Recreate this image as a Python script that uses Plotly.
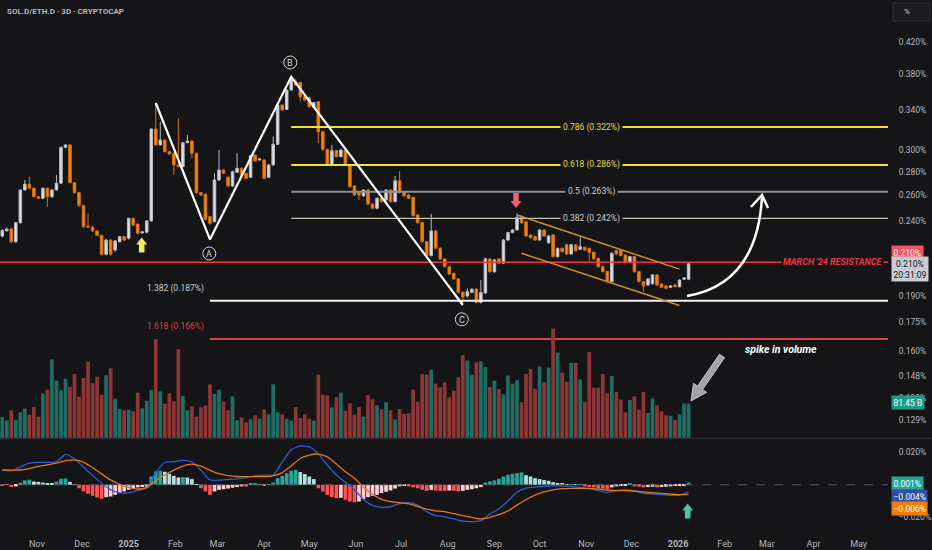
import math
from datetime import date, timedelta
import plotly.graph_objects as go

# SOL.D / ETH.D, 3-day candles, values in %
first_day = date(2024, 10, 9)

opens = [0.2290, 0.2329, 0.2341, 0.2250, 0.2388, 0.2645, 0.2693, 0.2659, 0.2590, 0.2577,
         0.2659, 0.2590, 0.2645, 0.2701, 0.3022, 0.3045, 0.2706, 0.2623, 0.2519, 0.2362,
         0.2355, 0.2327, 0.2295, 0.2163, 0.2262, 0.2192, 0.2250, 0.2286, 0.2274, 0.2421,
         0.2378, 0.2312, 0.2318, 0.2401, 0.3200, 0.3045, 0.3092, 0.2981, 0.2966, 0.2860,
         0.2845, 0.3066, 0.3082, 0.2966, 0.2623, 0.2610, 0.2433, 0.2396, 0.2729, 0.2815,
         0.2752, 0.2678, 0.2795, 0.2830, 0.2786, 0.2752, 0.2950, 0.2905, 0.2905, 0.2752,
         0.2860, 0.3051, 0.3449, 0.3403, 0.3615, 0.3711, 0.3700, 0.3540, 0.3530, 0.3425,
         0.3485, 0.3173, 0.3003, 0.2860, 0.2991, 0.2935, 0.2997, 0.2860, 0.2678, 0.2623,
         0.2596, 0.2645, 0.2532, 0.2498, 0.2577, 0.2563, 0.2645, 0.2550, 0.2723, 0.2623,
         0.2604, 0.2585, 0.2446, 0.2390, 0.2250, 0.2154, 0.2327, 0.2204, 0.2132, 0.2081,
         0.2038, 0.2003, 0.1921, 0.1899, 0.1921, 0.1939, 0.1862, 0.1917, 0.2132, 0.2049,
         0.2132, 0.2104, 0.2262, 0.2315, 0.2334, 0.2433, 0.2395, 0.2298, 0.2286, 0.2262,
         0.2334, 0.2243, 0.2298, 0.2148, 0.2204, 0.2229, 0.2165, 0.2227, 0.2197, 0.2211,
         0.2204, 0.2177, 0.2136, 0.2081, 0.2049, 0.1986, 0.2188, 0.2192, 0.2158, 0.2110,
         0.2148, 0.2049, 0.1986, 0.1965, 0.1973, 0.2028, 0.1972, 0.1959, 0.1951, 0.1965,
         0.1955, 0.2001, 0.2001]
highs = [0.2340, 0.2350, 0.2350, 0.2390, 0.2650, 0.2729, 0.2757, 0.2665, 0.2595, 0.2665,
         0.2665, 0.2650, 0.2771, 0.3030, 0.3050, 0.3050, 0.2710, 0.2630, 0.2525, 0.2459,
         0.2362, 0.2330, 0.2300, 0.2270, 0.2268, 0.2260, 0.2290, 0.2290, 0.2425, 0.2425,
         0.2380, 0.2325, 0.2405, 0.3205, 0.3471, 0.3274, 0.3100, 0.2985, 0.2970, 0.3310,
         0.3070, 0.3141, 0.3085, 0.2970, 0.2625, 0.2615, 0.2440, 0.2786, 0.2997, 0.2825,
         0.2760, 0.2810, 0.2966, 0.2840, 0.2790, 0.2950, 0.2955, 0.2920, 0.2910, 0.2865,
         0.3126, 0.3455, 0.3455, 0.3620, 0.3760, 0.3740, 0.3710, 0.3550, 0.3540, 0.3480,
         0.3490, 0.3180, 0.3010, 0.3045, 0.3000, 0.3005, 0.3005, 0.2865, 0.2680, 0.2625,
         0.2650, 0.2650, 0.2535, 0.2585, 0.2580, 0.2650, 0.2650, 0.2763, 0.2806, 0.2630,
         0.2610, 0.2590, 0.2450, 0.2395, 0.2255, 0.2454, 0.2333, 0.2210, 0.2135, 0.2085,
         0.2042, 0.2008, 0.1925, 0.1945, 0.1945, 0.1945, 0.1996, 0.2140, 0.2138, 0.2130,
         0.2138, 0.2268, 0.2320, 0.2340, 0.2459, 0.2445, 0.2400, 0.2302, 0.2290, 0.2340,
         0.2340, 0.2296, 0.2305, 0.2210, 0.2210, 0.2235, 0.2235, 0.2232, 0.2281, 0.2216,
         0.2208, 0.2181, 0.2140, 0.2085, 0.2053, 0.2175, 0.2195, 0.2198, 0.2162, 0.2152,
         0.2152, 0.2053, 0.1990, 0.2008, 0.2034, 0.2034, 0.1976, 0.1963, 0.1965, 0.1970,
         0.2000, 0.2015, 0.2105]
lows = [0.2280, 0.2320, 0.2240, 0.2240, 0.2380, 0.2640, 0.2650, 0.2585, 0.2570, 0.2570,
        0.2510, 0.2580, 0.2640, 0.2695, 0.3015, 0.2700, 0.2615, 0.2510, 0.2350, 0.2350,
        0.2320, 0.2290, 0.2155, 0.2155, 0.2155, 0.2180, 0.2245, 0.2255, 0.2265, 0.2365,
        0.2305, 0.2308, 0.2310, 0.2395, 0.3035, 0.3040, 0.2975, 0.2955, 0.2771, 0.2840,
        0.2840, 0.3060, 0.2920, 0.2615, 0.2595, 0.2405, 0.2370, 0.2390, 0.2720, 0.2780,
        0.2670, 0.2670, 0.2790, 0.2765, 0.2735, 0.2745, 0.2890, 0.2900, 0.2735, 0.2745,
        0.2855, 0.3045, 0.3390, 0.3395, 0.3610, 0.3660, 0.3485, 0.3490, 0.3420, 0.3420,
        0.3060, 0.2990, 0.2850, 0.2850, 0.2930, 0.2930, 0.2850, 0.2665, 0.2595, 0.2563,
        0.2590, 0.2525, 0.2490, 0.2490, 0.2545, 0.2555, 0.2545, 0.2545, 0.2615, 0.2590,
        0.2570, 0.2435, 0.2380, 0.2245, 0.2145, 0.2148, 0.2198, 0.2125, 0.2075, 0.2028,
        0.1997, 0.1915, 0.1855, 0.1890, 0.1915, 0.1855, 0.1855, 0.1910, 0.2042, 0.2040,
        0.2098, 0.2100, 0.2255, 0.2310, 0.2330, 0.2380, 0.2285, 0.2270, 0.2255, 0.2255,
        0.2285, 0.2237, 0.2140, 0.2140, 0.2175, 0.2160, 0.2160, 0.2182, 0.2192, 0.2187,
        0.2120, 0.2126, 0.2075, 0.2043, 0.1980, 0.1980, 0.2160, 0.2148, 0.2104, 0.2104,
        0.2043, 0.1980, 0.1925, 0.1960, 0.1968, 0.1960, 0.1945, 0.1939, 0.1945, 0.1950,
        0.1950, 0.1996, 0.1995]
closes = [0.2330, 0.2341, 0.2250, 0.2388, 0.2645, 0.2693, 0.2659, 0.2590, 0.2577, 0.2659,
          0.2590, 0.2645, 0.2701, 0.3022, 0.3045, 0.2706, 0.2623, 0.2519, 0.2358, 0.2355,
          0.2327, 0.2295, 0.2163, 0.2262, 0.2163, 0.2255, 0.2286, 0.2262, 0.2421, 0.2371,
          0.2310, 0.2320, 0.2401, 0.3200, 0.3045, 0.3092, 0.2981, 0.2960, 0.2860, 0.2845,
          0.3066, 0.3082, 0.2966, 0.2623, 0.2604, 0.2413, 0.2383, 0.2729, 0.2815, 0.2786,
          0.2678, 0.2801, 0.2830, 0.2772, 0.2743, 0.2944, 0.2896, 0.2914, 0.2743, 0.2860,
          0.3051, 0.3449, 0.3396, 0.3615, 0.3730, 0.3672, 0.3540, 0.3504, 0.3431, 0.3475,
          0.3173, 0.3003, 0.2860, 0.2991, 0.2935, 0.2997, 0.2860, 0.2672, 0.2604, 0.2604,
          0.2645, 0.2532, 0.2498, 0.2577, 0.2550, 0.2645, 0.2550, 0.2723, 0.2623, 0.2596,
          0.2577, 0.2441, 0.2388, 0.2250, 0.2154, 0.2327, 0.2204, 0.2132, 0.2081, 0.2034,
          0.2003, 0.1921, 0.1893, 0.1925, 0.1939, 0.1862, 0.1919, 0.2132, 0.2049, 0.2125,
          0.2104, 0.2262, 0.2315, 0.2334, 0.2428, 0.2388, 0.2291, 0.2279, 0.2262, 0.2334,
          0.2291, 0.2291, 0.2148, 0.2204, 0.2181, 0.2165, 0.2229, 0.2188, 0.2215, 0.2192,
          0.2177, 0.2132, 0.2081, 0.2049, 0.1986, 0.2170, 0.2165, 0.2154, 0.2110, 0.2148,
          0.2049, 0.1986, 0.1959, 0.2003, 0.2028, 0.1965, 0.1951, 0.1945, 0.1959, 0.1955,
          0.1996, 0.2009, 0.2100]

# volume in billions
volume_b = [49.6, 41.7, 65.3, 42.5, 60.6, 69.3, 55.1, 73.2, 50.4, 105.5,
            114.1, 185.7, 135.4, 112.5, 140.1, 121.2, 151.1, 97.6, 141.7, 180.2,
            129.9, 144.8, 102.3, 148.0, 164.5, 92.9, 68.5, 65.3, 66.9, 63.0,
            107.0, 70.0, 88.1, 114.1, 233.7, 110.2, 81.1, 105.5, 86.6, 209.3,
            99.2, 65.3, 74.8, 50.4, 72.4, 76.3, 126.7, 103.9, 114.1, 85.8,
            65.3, 98.4, 41.7, 48.0, 37.0, 44.1, 53.5, 45.6, 66.9, 55.9,
            126.7, 60.6, 55.9, 45.6, 40.9, 73.2, 47.2, 55.9, 45.6, 40.9,
            149.5, 102.3, 100.0, 72.4, 96.0, 107.0, 64.5, 81.8, 55.1, 73.2,
            50.4, 100.7, 91.3, 77.1, 67.7, 84.2, 65.3, 44.1, 68.5, 56.7,
            58.2, 114.1, 85.8, 151.1, 149.5, 161.3, 128.3, 119.6, 131.4, 96.0,
            111.8, 143.2, 195.2, 182.6, 149.5, 178.6, 181.0, 167.6, 120.4, 135.4,
            115.7, 103.1, 147.2, 128.3, 136.9, 84.2, 151.1, 162.9, 115.7, 168.4,
            131.4, 166.1, 258.1, 201.5, 154.3, 133.0, 177.1, 177.1, 138.5, 85.0,
            203.0, 118.8, 118.8, 151.1, 105.5, 146.4, 108.6, 90.5, 60.6, 89.7,
            98.4, 66.9, 108.6, 59.0, 92.9, 77.1, 63.0, 53.5, 52.7, 42.5,
            55.9, 81.8, 81.45]

# MACD histogram, one per candle (%)
macd_hist = [-0.0002, -0.0001, -0.0014, -0.0010, 0.0014, 0.0027, 0.0031, 0.0020, 0.0018, 0.0014,
             0.0010, 0.0006, 0.0020, 0.0037, 0.0039, 0.0018, 0.0001, -0.0021, -0.0041, -0.0055,
             -0.0068, -0.0078, -0.0086, -0.0076, -0.0072, -0.0062, -0.0051, -0.0041, -0.0031, -0.0021,
             -0.0016, -0.0014, -0.0012, 0.0051, 0.0082, 0.0086, 0.0080, 0.0068, 0.0055, 0.0045,
             0.0047, 0.0045, 0.0035, 0.0004, -0.0021, -0.0041, -0.0062, -0.0041, -0.0031, -0.0027,
             -0.0023, -0.0018, -0.0014, -0.0010, -0.0011, 0.0006, 0.0007, 0.0004, -0.0002, 0.0002,
             0.0014, 0.0041, 0.0055, 0.0072, 0.0086, 0.0092, 0.0078, 0.0066, 0.0051, 0.0035,
             -0.0021, -0.0041, -0.0062, -0.0076, -0.0082, -0.0080, -0.0092, -0.0103, -0.0107, -0.0103,
             -0.0088, -0.0076, -0.0068, -0.0062, -0.0051, -0.0043, -0.0035, -0.0023, -0.0010, -0.0008,
             -0.0010, -0.0016, -0.0021, -0.0031, -0.0037, -0.0031, -0.0035, -0.0037, -0.0037, -0.0035,
             -0.0037, -0.0041, -0.0037, -0.0031, -0.0027, -0.0021, -0.0014, 0.0014, 0.0021, 0.0027,
             0.0037, 0.0051, 0.0062, 0.0068, 0.0072, 0.0076, 0.0059, 0.0051, 0.0041, 0.0035,
             0.0029, 0.0025, 0.0016, 0.0010, 0.0006, 0.0002, 0.0004, 0.0002, 0.0001, -0.0010,
             -0.0014, -0.0016, -0.0021, -0.0023, -0.0025, -0.0016, -0.0010, -0.0006, -0.0002, 0.0006,
             -0.0010, -0.0012, -0.0016, -0.0014, -0.0012, -0.0016, -0.0014, -0.0012, -0.0010, -0.0008,
             -0.0006, -0.0002, 0.0014]

# MACD and signal lines, read every second candle (%)
macd_line = [0.0090, 0.0086, 0.0110, 0.0133, 0.0138, 0.0138, 0.0142, 0.0187, 0.0160, 0.0108,
             0.0058, 0.0010, -0.0030, -0.0050, -0.0050, -0.0035, -0.0020, 0.0075, 0.0137, 0.0142,
             0.0150, 0.0140, 0.0090, 0.0030, 0.0029, 0.0033, 0.0037, 0.0044, 0.0055, 0.0058,
             0.0060, 0.0140, 0.0215, 0.0239, 0.0233, 0.0190, 0.0120, 0.0060, 0.0015, -0.0030,
             -0.0090, -0.0127, -0.0139, -0.0135, -0.0116, -0.0110, -0.0125, -0.0165, -0.0189, -0.0197,
             -0.0210, -0.0223, -0.0227, -0.0221, -0.0180, -0.0147, -0.0100, -0.0045, -0.0020, -0.0014,
             -0.0010, -0.0007, -0.0007, -0.0010, -0.0016, -0.0024, -0.0036, -0.0047, -0.0035, -0.0032,
             -0.0039, -0.0052, -0.0057, -0.0060, -0.0065, -0.0064, -0.0044]
signal_line = [0.0091, 0.0090, 0.0091, 0.0100, 0.0113, 0.0123, 0.0133, 0.0148, 0.0153, 0.0140,
               0.0105, 0.0067, 0.0030, 0.0002, -0.0018, -0.0026, -0.0018, 0.0025, 0.0060, 0.0090,
               0.0115, 0.0127, 0.0115, 0.0089, 0.0068, 0.0056, 0.0051, 0.0050, 0.0050, 0.0050,
               0.0055, 0.0075, 0.0117, 0.0162, 0.0183, 0.0189, 0.0172, 0.0128, 0.0080, 0.0040,
               -0.0015, -0.0058, -0.0090, -0.0104, -0.0110, -0.0117, -0.0132, -0.0150, -0.0160, -0.0165,
               -0.0178, -0.0190, -0.0201, -0.0210, -0.0201, -0.0184, -0.0160, -0.0125, -0.0092, -0.0064,
               -0.0044, -0.0031, -0.0024, -0.0022, -0.0022, -0.0022, -0.0026, -0.0032, -0.0036, -0.0035,
               -0.0038, -0.0044, -0.0049, -0.0053, -0.0057, -0.0061, -0.0059]

dates = [first_day + timedelta(days=3 * i) for i in range(len(closes))]
line_dates = dates[::2]

# drawings on the chart
fib_labels = ['0.786 (0.322%)', '0.618 (0.286%)', '0.5 (0.263%)', '0.382 (0.242%)',
              '1.382 (0.187%)', '1.618 (0.166%)']
fib_values = [0.322, 0.286, 0.263, 0.242, 0.187, 0.166]
resistance = 0.211
wave_idx = [34, 46, 64, 102]          # start, A, B, C candles
wave_vals = [0.3471, 0.2266, 0.3768, 0.1846]
chan_up_idx, chan_up_vals = [114, 150], [0.2446, 0.2065]
chan_lo_idx, chan_lo_vals = [115, 150], [0.2170, 0.1843]

price_ticks = [0.42, 0.38, 0.34, 0.30, 0.28, 0.26, 0.24, 0.19, 0.175, 0.16, 0.148, 0.138, 0.129]
month_ticks = ['2024-11-01', '2024-12-01', '2025-01-01', '2025-02-01', '2025-03-01', '2025-04-01',
               '2025-05-01', '2025-06-01', '2025-07-01', '2025-08-01', '2025-09-01', '2025-10-01',
               '2025-11-01', '2025-12-01', '2026-01-01', '2026-02-01', '2026-03-01', '2026-04-01',
               '2026-05-01']
month_labels = ['Nov', 'Dec', '<b>2025</b>', 'Feb', 'Mar', 'Apr', 'May', 'Jun', 'Jul', 'Aug', 'Sep',
                'Oct', 'Nov', 'Dec', '<b>2026</b>', 'Feb', 'Mar', 'Apr', 'May']

BG = '#151518'
TXT = '#b2b5be'
X_START, X_END = '2024-10-07 12:00', '2026-05-20 12:00'
PW, PH = 888, 528  # plot area in px


def pp(x, y):
    # pixel position inside the plot area -> paper coords
    return x / PW, 1 - y / PH


def ps(x, y):
    a, b = pp(x, y)
    return f'{a:.5f},{b:.5f}'


def poly(points):
    return 'M ' + ' L '.join(ps(x, y) for x, y in points) + ' Z'


def block_arrow(cx, tip, length, up=True):
    s = 1 if up else -1
    return poly([(cx, tip), (cx + 5.5, tip + 7 * s), (cx + 2.8, tip + 7 * s),
                 (cx + 2.8, tip + length * s), (cx - 2.8, tip + length * s),
                 (cx - 2.8, tip + 7 * s), (cx - 5.5, tip + 7 * s)])


fig = go.Figure()

vol_colors = ['#1e6e64' if c >= o else '#8e3636' for o, c in zip(opens, closes)]
fig.add_trace(go.Bar(x=dates, y=volume_b, marker=dict(color=vol_colors, line=dict(width=0)),
                     yaxis='y3', hoverinfo='skip'))

fig.add_trace(go.Candlestick(
    x=dates, open=opens, high=highs, low=lows, close=closes,
    increasing=dict(line=dict(color='#b9bbc1', width=1), fillcolor='#dedfe3'),
    decreasing=dict(line=dict(color='#d9730c', width=1), fillcolor='#f7850f'),
    yaxis='y'))

# fib levels
fib_colors = ['#f3e23e', '#f3e23e', '#8c8f98', '#cbbfb0', '#f2f2f2', '#e0404a']
fib_widths = [2, 2, 2, 1.3, 2, 2]
for i, v in enumerate(fib_values):
    x0 = dates[wave_idx[2]] if i < 4 else dates[wave_idx[1]]
    fig.add_trace(go.Scatter(x=[x0, X_END], y=[v, v], mode='lines',
                             line=dict(color=fib_colors[i], width=fib_widths[i]), hoverinfo='skip'))

fig.add_trace(go.Scatter(x=[X_START, X_END], y=[resistance, resistance], mode='lines',
                         line=dict(color='#f23645', width=1.5), hoverinfo='skip'))

fig.add_trace(go.Scatter(x=[dates[i] for i in wave_idx], y=wave_vals, mode='lines',
                         line=dict(color='#ffffff', width=2.2), hoverinfo='skip'))

fig.add_trace(go.Scatter(x=[dates[i] for i in chan_up_idx], y=chan_up_vals, mode='lines',
                         line=dict(color='#d08c2c', width=1.5), hoverinfo='skip'))
fig.add_trace(go.Scatter(x=[dates[i] for i in chan_lo_idx], y=chan_lo_vals, mode='lines',
                         line=dict(color='#d08c2c', width=1.5), hoverinfo='skip'))

# MACD pane
hist_colors = []
prev = 0
for h in macd_hist:
    if h >= 0:
        hist_colors.append('#26a69a' if h > prev else '#b2dfdb')
    else:
        hist_colors.append('#ffcdd2' if h > prev else '#ff5252')
    prev = h
fig.add_trace(go.Scatter(x=[X_START, X_END], y=[0, 0], mode='lines', yaxis='y2',
                         line=dict(color='#55585f', width=1, dash='dash'), hoverinfo='skip'))
fig.add_trace(go.Bar(x=dates, y=macd_hist, marker=dict(color=hist_colors, line=dict(width=0)),
                     yaxis='y2'))
fig.add_trace(go.Scatter(x=line_dates, y=macd_line, mode='lines', yaxis='y2',
                         line=dict(color='#2f5bd3', width=1.3, shape='spline', smoothing=0.6)))
fig.add_trace(go.Scatter(x=line_dates, y=signal_line, mode='lines', yaxis='y2',
                         line=dict(color='#e8741a', width=1.3, shape='spline', smoothing=0.6)))

shapes = []
# pane separator
x0, y0 = pp(0, 438.5)
shapes.append(dict(type='line', xref='paper', yref='paper', x0=0, x1=932 / PW, y0=y0, y1=y0,
                   line=dict(color='#2a2b30', width=1.5)))
# % box
a0, b0 = pp(893, 3)
a1, b1 = pp(930, 21)
shapes.append(dict(type='rect', xref='paper', yref='paper', x0=a0, x1=a1, y0=b1, y1=b0,
                   fillcolor='#1c1c20', line=dict(color='#2e2e34', width=1)))
# arrows
shapes.append(dict(type='path', xref='paper', yref='paper', path=block_arrow(141.7, 237.5, 15),
                   fillcolor='#f7ea5c', line=dict(width=0)))
shapes.append(dict(type='path', xref='paper', yref='paper', path=block_arrow(516, 208, 15, up=False),
                   fillcolor='#f0616d', line=dict(width=0)))
shapes.append(dict(type='path', xref='paper', yref='paper', path=block_arrow(687.7, 503.5, 15),
                   fillcolor='#4fc3a1', line=dict(width=0)))
shapes.append(dict(type='path', xref='paper', yref='paper',
                   path=f'M {ps(687, 296)} Q {ps(757, 284)} {ps(762, 197)}',
                   line=dict(color='#ffffff', width=2.5)))
shapes.append(dict(type='path', xref='paper', yref='paper',
                   path=f'M {ps(751, 207)} L {ps(762, 195)} L {ps(768, 208)}',
                   line=dict(color='#ffffff', width=2.5)))
shapes.append(dict(type='path', xref='paper', yref='paper',
                   path=poly([(724.5, 357.7), (702.6, 389.5), (706.7, 392.3), (691, 401),
                              (693.5, 383.3), (697.6, 386.1), (719.5, 354.3)]),
                   fillcolor='#a3a3a6', line=dict(color='#c4c4c8', width=1)))
# wave letter circles
wave_letters = ['A', 'B', 'C']
letter_pos = [(209.3, 253.5), (290.3, 62.5), (461.8, 319.3)]
for (cx, cy) in letter_pos:
    a0, b0 = pp(cx - 6.5, cy - 6.5)
    a1, b1 = pp(cx + 6.5, cy + 6.5)
    shapes.append(dict(type='circle', xref='paper', yref='paper', x0=a0, x1=a1, y0=b1, y1=b0,
                       line=dict(color='#d1d4dc', width=1)))

ann = []
tx, ty = pp(5, 12)
ann.append(dict(text='<b>SOL.D/ETH.D · 3D · CRYPTOCAP</b>', x=tx, y=ty, xref='paper', yref='paper',
                xanchor='left', yanchor='middle', showarrow=False, font=dict(size=8, color=TXT)))
tx, ty = pp(902, 12)
ann.append(dict(text='%', x=tx, y=ty, xref='paper', yref='paper', xanchor='left', yanchor='middle',
                showarrow=False, font=dict(size=8, color='#d1d4dc')))
for (cx, cy), letter in zip(letter_pos, wave_letters):
    tx, ty = pp(cx, cy + 0.3)
    ann.append(dict(text=letter, x=tx, y=ty, xref='paper', yref='paper', showarrow=False,
                    xanchor='center', yanchor='middle', font=dict(size=9, color='#d1d4dc')))

fib_text_colors = ['#e9d84a', '#e9d84a', '#c9cbd1', '#c9cbd1', '#c9cbd1', '#d9434a']
for i, v in enumerate(fib_values):
    if i < 4:
        ann.append(dict(text=fib_labels[i], x=591 / PW, xref='paper', y=math.log10(v), yref='y',
                        xanchor='center', yanchor='middle', showarrow=False, bgcolor=BG,
                        borderpad=2, font=dict(size=8.5, color=fib_text_colors[i])))
    else:
        ann.append(dict(text=fib_labels[i], x=206 / PW, xref='paper', y=math.log10(v) + 0.007,
                        yref='y', xanchor='right', yanchor='bottom', showarrow=False,
                        font=dict(size=8.5, color=fib_text_colors[i])))

ann.append(dict(text="<b><i>MARCH '24 RESISTANCE</i></b>", x=884 / PW, xref='paper',
                y=math.log10(resistance), yref='y', xanchor='right', yanchor='middle',
                showarrow=False, bgcolor=BG, borderpad=1, font=dict(size=9, color='#f23645')))
tx, ty = pp(781, 349)
ann.append(dict(text='<b><i>spike in volume</i></b>', x=tx, y=ty, xref='paper', yref='paper',
                xanchor='center', yanchor='middle', showarrow=False,
                font=dict(size=10.5, color='#ffffff')))


def box(text, y_px, bg, fg='#ffffff'):
    bx, by = pp(891, y_px)
    return dict(text=text, x=bx, y=by, xref='paper', yref='paper', xanchor='left',
                yanchor='middle', showarrow=False, bgcolor=bg, borderpad=1.5,
                font=dict(size=8.5, color=fg))


ann.append(box('0.210%', 252, '#f7525f'))
ann.append(box('0.210%<br>20:31:09', 268.5, '#c9cbd1', '#131722'))
ann.append(box('81.45 B', 402.5, '#1f9c88'))
ann.append(box('0.001%', 483.8, '#26a69a'))
ann.append(box('−0.004%', 496.2, '#2e4fa6'))
ann.append(box('−0.006%', 508, '#f57c00'))

fig.update_layout(
    width=932, height=550,
    margin=dict(l=0, r=44, t=0, b=22),
    paper_bgcolor=BG, plot_bgcolor=BG,
    font=dict(family='Roboto, Arial, sans-serif', size=9, color=TXT),
    showlegend=False, barmode='overlay', bargap=0.18, boxgap=0.2,
    xaxis=dict(type='date', range=[X_START, X_END], anchor='y2', tickvals=month_ticks,
               ticktext=month_labels, ticks='outside', ticklen=7, tickcolor=BG,
               showgrid=False, zeroline=False, showline=False,
               rangeslider=dict(visible=False), tickfont=dict(size=9, color=TXT)),
    yaxis=dict(domain=[1 - 438 / PH, 1], type='log',
               range=[math.log10(0.1218), math.log10(0.479)], side='right', anchor='x',
               tickvals=price_ticks, ticktext=[f'{v:.3f}%' for v in price_ticks],
               ticks='outside', ticklen=8, tickcolor=BG, showgrid=False, zeroline=False,
               tickfont=dict(size=8.5, color=TXT)),
    yaxis2=dict(domain=[0, 1 - 440 / PH], range=[-0.02657, 0.02755], side='right', anchor='x',
                tickvals=[0.02, -0.02], ticktext=['0.020%', '−0.020%'], ticks='outside',
                ticklen=8, tickcolor=BG, showgrid=False, zeroline=False,
                tickfont=dict(size=8.5, color=TXT)),
    yaxis3=dict(overlaying='y', range=[0, 1034], visible=False),
    shapes=shapes, annotations=ann,
)

# drop the default page margin so the figure fills the window
fig.write_html('out.html', config={'displayModeBar': False},
               post_script="document.body.style.margin='0';"
                           "document.body.style.overflow='hidden';")
